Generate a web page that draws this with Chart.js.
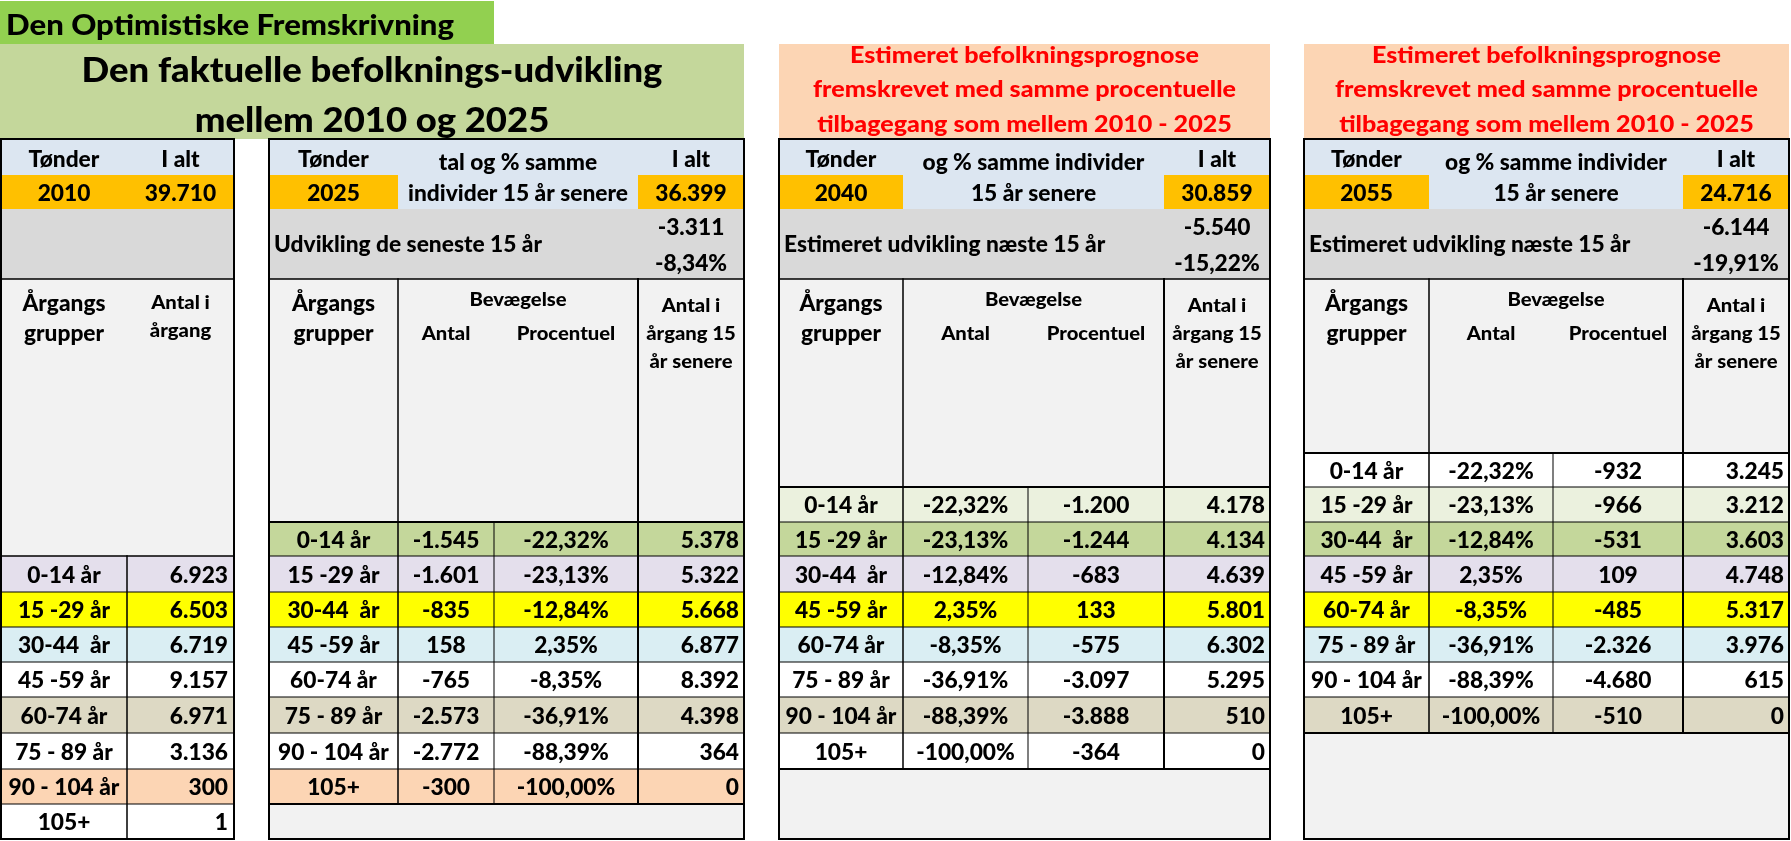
<!DOCTYPE html>
<html><head><meta charset="utf-8">
<script src="https://cdn.jsdelivr.net/npm/chart.js@4.4.1/dist/chart.umd.min.js"></script>
<style>html,body{margin:0;padding:0;background:#fff;overflow:hidden}#wrap{width:1791px;height:841px;position:relative}</style>
</head><body><div id="wrap"><canvas id="c"></canvas></div>
<script>
// ---------------- DATA ----------------
const bannerText = 'Den Optimistiske Fremskrivning';
const titleLeft = ['Den faktuelle befolknings-udvikling', 'mellem 2010 og 2025'];
const titleRight = ['Estimeret befolkningsprognose', 'fremskrevet med samme procentuelle', 'tilbagegang som mellem 2010 - 2025'];
const ageGroups = ['0-14 år', '15 -29 år', '30-44  år', '45 -59 år', '60-74 år', '75 - 89 år', '90 - 104 år', '105+'];
const years = [2010, 2025, 2040, 2055];
const totals = [39710, 36399, 30859, 24716];
const totalChange = [null, -3311, -5540, -6144];
const totalChangePct = [null, -8.34, -15.22, -19.91];
const pop2010 = [6923, 6503, 6719, 9157, 6971, 3136, 300, 1];
const change2025 = [-1545, -1601, -835, 158, -765, -2573, -2772, -300];
const pct2025 = [-22.32, -23.13, -12.84, 2.35, -8.35, -36.91, -88.39, -100.00];
const pop2025 = [5378, 5322, 5668, 6877, 8392, 4398, 364, 0];
const pct2040 = [-22.32, -23.13, -12.84, 2.35, -8.35, -36.91, -88.39, -100.00];
const change2040 = [-1200, -1244, -683, 133, -575, -3097, -3888, -364];
const pop2040 = [4178, 4134, 4639, 5801, 6302, 5295, 510, 0];
const pct2055 = [-22.32, -23.13, -12.84, 2.35, -8.35, -36.91, -88.39, -100.00];
const change2055 = [-932, -966, -531, 109, -485, -2326, -4680, -510];
const pop2055 = [3245, 3212, 3603, 4748, 5317, 3976, 615, 0];

// ---------------- LAYOUT / STYLE ----------------
const FAM = 'Lato, "Noto Sans", sans-serif';
const WEIGHT = '900';
const CAP = 0.7165;
const C = {banner:'#92D050', titleL:'#C4D79B', titleR:'#FCD5B4', hdr:'#DCE6F1', orange:'#FFC000',
  gray:'#D9D9D9', light:'#F2F2F2', red:'#FF0000'};
const cohortColors = ['#FFFFFF', '#EBF1DE', '#C4D79B', '#E4DFEC', '#FFFF00', '#DAEEF3', '#FFFFFF', '#DDD9C4', '#FFFFFF', '#FCD5B4', '#FFFFFF'];
const rowLines = [453, 487, 522, 556, 592, 627, 662, 697, 733, 769, 804, 839];
const Y = {top:139, hdrMid:175, orangeBot:209, grayBot:279, bottom:839};
const tableCols = [[1, 127, 234], [269, 398, 494, 638, 744], [779, 903, 1028, 1164, 1270], [1304, 1429, 1553, 1683, 1789]];

function fmtInt(n) {
  const s = Math.abs(n).toString().replace(/\B(?=(\d{3})+(?!\d))/g, '.');
  return (n < 0 ? '-' : '') + s;
}
function fmtPct(p) { return p.toFixed(2).replace('.', ',') + '%'; }

const tablePlugin = {
  id: 'sheet',
  afterDraw(chart) {
    const ctx = chart.ctx;
    const xs = chart.scales.x, ys = chart.scales.y;
    const X = v => xs.getPixelForValue(v), Yp = v => ys.getPixelForValue(v);

    function rect(x0, y0, x1, y1, fill) {
      ctx.fillStyle = fill;
      ctx.fillRect(X(x0), Yp(y0), X(x1) - X(x0), Yp(y1) - Yp(y0));
    }
    function hline(x0, x1, y, w) {
      ctx.fillStyle = '#000';
      ctx.fillRect(X(x0) - w / 2, Yp(y) - w / 2, X(x1) - X(x0) + w, w);
    }
    function vline(x, y0, y1, w) {
      ctx.fillStyle = '#000';
      ctx.fillRect(X(x) - w / 2, Yp(y0) - w / 2, w, Yp(y1) - Yp(y0) + w);
    }
    function measure(str, size) {
      ctx.font = WEIGHT + ' ' + size + 'px ' + FAM;
      return ctx.measureText(str).width;
    }
    function text(str, x, yc, o) {
      ctx.save();
      ctx.font = WEIGHT + ' ' + o.size + 'px ' + FAM;
      ctx.fillStyle = o.color || '#000';
      ctx.textBaseline = 'alphabetic';
      ctx.textAlign = 'left';
      const sx = o.sx || 1;
      const w = ctx.measureText(str).width * sx;
      const px = X(x);
      const x0 = o.align === 'left' ? px : o.align === 'right' ? px - w : px - w / 2;
      ctx.translate(x0, Yp(yc) + CAP * o.size / 2);
      ctx.scale(sx, 1);
      ctx.fillText(str, 0, 0);
      ctx.restore();
    }
    // calibrated fonts
    const F = {
      cell: {size: 22, sx: 268 / measure('Udvikling de seneste 15 år', 22)},
      small: {size: 19.5, sx: 98.5 / measure('Procentuel', 19.5)},
      title: {size: 34, sx: 581 / measure(titleLeft[0], 34)},
      banner: {size: 28.5, sx: 448 / measure(bannerText, 28.5)},
      red: {size: 23, sx: 423 / measure(titleRight[1], 23), color: C.red}
    };
    const f = (base, extra) => Object.assign({}, base, extra || {});

    // banner + titles
    rect(0, 1, 494, 44, C.banner);
    text(bannerText, 6, 25, f(F.banner, {align: 'left'}));
    rect(0, 44, 744, 139, C.titleL);
    text(titleLeft[0], 372, 69.5, F.title);
    text(titleLeft[1], 372, 119.5, F.title);
    [2, 3].forEach(k => {
      const c = tableCols[k], cx = (c[0] + c[c.length - 1]) / 2;
      rect(c[0], 44, c[c.length - 1], 139, C.titleR);
      text(titleRight[0], cx, 54.7, F.red);
      text(titleRight[1], cx, 88.7, F.red);
      text(titleRight[2], cx, 123.3, F.red);
    });

    // ---- table 1 (2010) ----
    {
      const c = tableCols[0];
      rect(c[0], Y.top, c[2], Y.hdrMid, C.hdr);
      rect(c[0], Y.hdrMid, c[2], Y.orangeBot, C.orange);
      rect(c[0], Y.orangeBot, c[2], Y.grayBot, C.gray);
      rect(c[0], Y.grayBot, c[2], rowLines[3], C.light);
      const m1 = (c[0] + c[1]) / 2, m2 = (c[1] + c[2]) / 2;
      text('Tønder', m1, 159.5, F.cell);
      text('I alt', m2, 159.5, F.cell);
      text(String(years[0]), m1, 193.5, F.cell);
      text(fmtInt(totals[0]), m2, 193.5, F.cell);
      text('Årgangs', m1, 303, F.cell);
      text('grupper', m1, 333, F.cell);
      text('Antal i', m2, 302, F.small);
      text('årgang', m2, 330, F.small);
      for (let i = 0; i < 8; i++) {
        const y0 = rowLines[3 + i], y1 = rowLines[4 + i], yc = (y0 + y1) / 2 + 1;
        rect(c[0], y0, c[2], y1, cohortColors[i + 3]);
        text(ageGroups[i], m1, yc, F.cell);
        text(fmtInt(pop2010[i]), c[2] - 6, yc, f(F.cell, {align: 'right'}));
      }
      hline(c[0], c[2], Y.grayBot, 1.5);
      for (let i = 3; i < 11; i++) hline(c[0], c[2], rowLines[i], i === 3 ? 1.5 : 1);
      vline(c[1], rowLines[3], Y.bottom, 1.5);
      hline(c[0], c[2], Y.top, 2); hline(c[0], c[2], Y.bottom, 2);
      vline(c[0], Y.top, Y.bottom, 2); vline(c[2], Y.top, Y.bottom, 2);
    }

    // ---- tables 2..4 ----
    const series = [null,
      {a: change2025, p: pct2025, v: pop2025, swap: false, mid: ['tal og % samme', 'individer 15 år senere'], lbl: 'Udvikling de seneste 15 år'},
      {a: change2040, p: pct2040, v: pop2040, swap: true, mid: ['og % samme individer', '15 år senere'], lbl: 'Estimeret udvikling næste 15 år'},
      {a: change2055, p: pct2055, v: pop2055, swap: true, mid: ['og % samme individer', '15 år senere'], lbl: 'Estimeret udvikling næste 15 år'}];
    for (let k = 1; k < 4; k++) {
      const c = tableCols[k], s = series[k];
      const L = c[0], R = c[4];
      const m1 = (c[0] + c[1]) / 2, m2 = (c[1] + c[2]) / 2, m3 = (c[2] + c[3]) / 2, m4 = (c[3] + c[4]) / 2, m23 = (c[1] + c[3]) / 2;
      const start = 3 - k;
      rect(L, Y.top, R, Y.orangeBot, C.hdr);
      rect(L, Y.hdrMid, c[1], Y.orangeBot, C.orange);
      rect(c[3], Y.hdrMid, R, Y.orangeBot, C.orange);
      rect(L, Y.orangeBot, R, Y.grayBot, C.gray);
      rect(L, Y.grayBot, R, rowLines[start], C.light);
      rect(L, rowLines[start + 8], R, Y.bottom, C.light);
      text('Tønder', m1, 159.5, F.cell);
      text(s.mid[0], m23, 162, F.cell);
      text(s.mid[1], m23, 193.5, F.cell);
      text('I alt', m4, 159.5, F.cell);
      text(String(years[k]), m1, 193.5, F.cell);
      text(fmtInt(totals[k]), m4, 193.5, F.cell);
      text(s.lbl, L + 5, 244, f(F.cell, {align: 'left'}));
      text(fmtInt(totalChange[k]), m4, 227.5, F.cell);
      text(fmtPct(totalChangePct[k]), m4, 263.5, F.cell);
      text('Årgangs', m1, 303, F.cell);
      text('grupper', m1, 333, F.cell);
      text('Bevægelse', m23, 299, F.small);
      text('Antal', m2, 333, F.small);
      text('Procentuel', m3, 333, F.small);
      text('Antal i', m4, 305, F.small);
      text('årgang 15', m4, 333, F.small);
      text('år senere', m4, 361, F.small);
      for (let i = 0; i < 8; i++) {
        const y0 = rowLines[start + i], y1 = rowLines[start + i + 1], yc = (y0 + y1) / 2 + 1;
        rect(L, y0, R, y1, cohortColors[i - k + 3]);
        text(ageGroups[i], m1, yc, F.cell);
        const aTxt = fmtInt(s.a[i]), pTxt = fmtPct(s.p[i]);
        text(s.swap ? pTxt : aTxt, m2, yc, F.cell);
        text(s.swap ? aTxt : pTxt, m3, yc, F.cell);
        text(fmtInt(s.v[i]), R - 5, yc, f(F.cell, {align: 'right'}));
      }
      hline(L, R, Y.grayBot, 1.5);
      for (let i = 0; i < 9; i++) hline(L, R, rowLines[start + i], (i === 0 || i === 8) ? 2 : 1);
      vline(c[1], Y.grayBot, rowLines[start + 8], 1.5);
      vline(c[3], Y.grayBot, rowLines[start + 8], 2);
      vline(c[2], rowLines[start], rowLines[start + 8], 1);
      hline(L, R, Y.top, 2); hline(L, R, Y.bottom, 2);
      vline(L, Y.top, Y.bottom, 2); vline(R, Y.top, Y.bottom, 2);
    }
  }
};

new Chart(document.getElementById('c'), {
  type: 'scatter',
  data: {datasets: [{data: [], pointRadius: 0}]},
  options: {
    responsive: true, maintainAspectRatio: false, animation: false, events: [],
    layout: {padding: 0},
    plugins: {legend: {display: false}, tooltip: {enabled: false}},
    scales: {
      x: {type: 'linear', min: 0, max: 1791, display: false},
      y: {type: 'linear', min: 0, max: 841, reverse: true, display: false}
    }
  },
  plugins: [tablePlugin]
});
</script></body></html>
